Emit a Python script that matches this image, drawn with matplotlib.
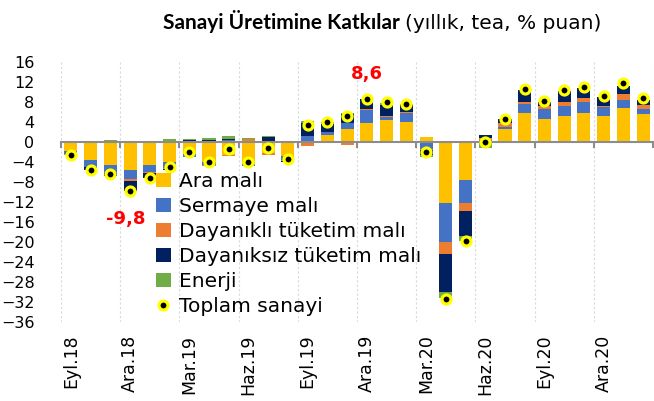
import matplotlib.pyplot as plt
import numpy as np

# Monthly contributions (yoy, calendar adjusted, % points), Sep 2018 - Feb 2021
months = ['Eyl.18', 'Eki.18', 'Kas.18', 'Ara.18', 'Oca.19', 'Şub.19', 'Mar.19', 'Nis.19',
          'May.19', 'Haz.19', 'Tem.19', 'Ağu.19', 'Eyl.19', 'Eki.19', 'Kas.19', 'Ara.19',
          'Oca.20', 'Şub.20', 'Mar.20', 'Nis.20', 'May.20', 'Haz.20', 'Tem.20', 'Ağu.20',
          'Eyl.20', 'Eki.20', 'Kas.20', 'Ara.20', 'Oca.21', 'Şub.21']

ara = [-1.8, -3.6, -4.6, -5.5, -4.5, -3.9, -2.4, -3.9, -2.5, -4.3, -2.2, -2.7, 0.0, 1.5, 2.7,
       3.9, 4.5, 4.0, 1.1, -12.1, -7.6, 0.2, 2.6, 5.9, 4.7, 5.3, 5.8, 5.3, 6.8, 5.6]
sermaye = [-0.5, -1.3, -1.5, -1.8, -1.5, -1.3, -0.5, -0.7, 0.5, -0.4, 0.3, -0.9, 1.2, 0.6, 1.2,
           2.5, 0.5, 1.9, -1.3, -7.9, -4.5, 0.3, 0.4, 1.7, 1.9, 1.9, 2.2, 1.7, 1.7, 1.0]
dayanikli = [-0.3, -0.1, 0.3, -0.4, -0.2, -0.1, 0.2, -0.2, -0.3, 0.6, -0.3, -0.1, -0.7, 0.0, -0.5,
             0.3, 0.3, 0.1, -0.3, -2.3, -1.7, 0.3, 0.8, 0.5, 0.7, 0.9, 0.8, 0.3, 1.1, 0.9]
dayaniksiz = [0.3, -0.6, -0.6, -2.0, -1.0, -0.3, 0.2, 0.5, 0.2, -0.1, 0.8, -0.2, 2.7, 1.6, 1.7,
              1.9, 2.2, 1.5, -1.0, -7.6, -4.9, 0.6, 0.8, 2.3, 0.7, 2.1, 2.0, 1.7, 1.7, 1.0]
enerji = [0.0, 0.0, 0.2, -0.1, 0.0, 0.7, 0.3, 0.3, 0.6, 0.2, 0.2, 0.1, 0.3, 0.3, 0.2,
          0.0, 0.3, 0.1, -0.3, -1.2, -1.0, -1.2, 0.0, 0.1, 0.1, 0.0, 0.1, 0.0, 0.0, 0.0]
toplam = [-2.5, -5.6, -6.4, -9.8, -7.2, -4.9, -2.0, -4.0, -1.4, -3.9, -1.2, -3.3, 3.5, 4.0, 5.3,
          8.6, 8.0, 7.5, -1.9, -31.4, -19.7, 0.1, 4.6, 10.5, 8.1, 10.3, 11.0, 9.1, 11.7, 8.8]

series = [('Ara malı', ara, '#FFC000'),
          ('Sermaye malı', sermaye, '#4472C4'),
          ('Dayanıklı tüketim malı', dayanikli, '#ED7D31'),
          ('Dayanıksız tüketim malı', dayaniksiz, '#002060'),
          ('Enerji', enerji, '#70AD47')]

x = np.arange(len(months))

fig = plt.figure(figsize=(6.54, 4.01), dpi=100)
ax = fig.add_axes([61 / 654, 79 / 401, 592 / 654, 260 / 401])

# stacked bars, positives up from zero and negatives down
handles = []
pos_bottom = np.zeros(len(x))
neg_bottom = np.zeros(len(x))
for name, vals, color in series:
    v = np.array(vals)
    bottom = np.where(v >= 0, pos_bottom, neg_bottom)
    h = ax.bar(x, v, width=0.66, bottom=bottom, color=color, label=name, zorder=2)
    handles.append(h)
    pos_bottom += np.where(v >= 0, v, 0)
    neg_bottom += np.where(v < 0, v, 0)

line, = ax.plot(x, toplam, linestyle='none', marker='o', markersize=6.5, markerfacecolor='black',
                markeredgecolor='#FFFF00', markeredgewidth=2.3, label='Toplam sanayi', zorder=4)
handles.append(line)

ax.set_xlim(-0.5, len(x) - 0.5)
ax.set_ylim(-36, 16)
ax.set_yticks(np.arange(-36, 17, 4))
ax.tick_params(axis='y', length=0, pad=19, labelsize=11.5)

# zero axis line with ticks at every third category boundary
for s in ['top', 'right', 'left']:
    ax.spines[s].set_visible(False)
ax.spines['bottom'].set_position(('data', 0))
ax.spines['bottom'].set_color('#8C8C8C')
ax.spines['bottom'].set_linewidth(1.5)
ax.spines['bottom'].set_zorder(3)
bounds = np.arange(-0.5, len(x), 3)
ax.set_xticks(bounds)
ax.set_xticklabels([])
ax.tick_params(axis='x', length=4, width=1.5, color='#8C8C8C')
for b in bounds:
    ax.axvline(b, color='#D9D9D9', linewidth=0.8, linestyle=(0, (2, 2)), zorder=0)

# month labels every three months at the bottom
sec = ax.secondary_xaxis('bottom')
sec.set_xticks(x[::3], [months[i] for i in x[::3]], rotation=90)
sec.tick_params(length=0, pad=9, labelsize=12.5)
sec.spines['bottom'].set_visible(False)

ax.text(2.8, -15.4, '-9,8', color='red', fontsize=13, fontweight='bold', ha='center', va='center')
ax.text(15, 13.6, '8,6', color='red', fontsize=13, fontweight='bold', ha='center', va='center')

ax.legend(handles=handles, loc='upper left', bbox_to_anchor=(0.16, 0.577), frameon=False,
          fontsize=14.5, handlelength=0.75, handleheight=0.75, handletextpad=0.4,
          labelspacing=0.3, borderaxespad=0, borderpad=0)

fig.text(400 / 654, 1 - 29 / 401, 'Sanayi Üretimine Katkılar', fontsize=15, fontweight='bold',
         family='Lato', ha='right', va='baseline')
fig.text(405 / 654, 1 - 29 / 401, '(yıllık, tea, % puan)', fontsize=14.5, ha='left', va='baseline')

fig.savefig('out.png', dpi=100)
